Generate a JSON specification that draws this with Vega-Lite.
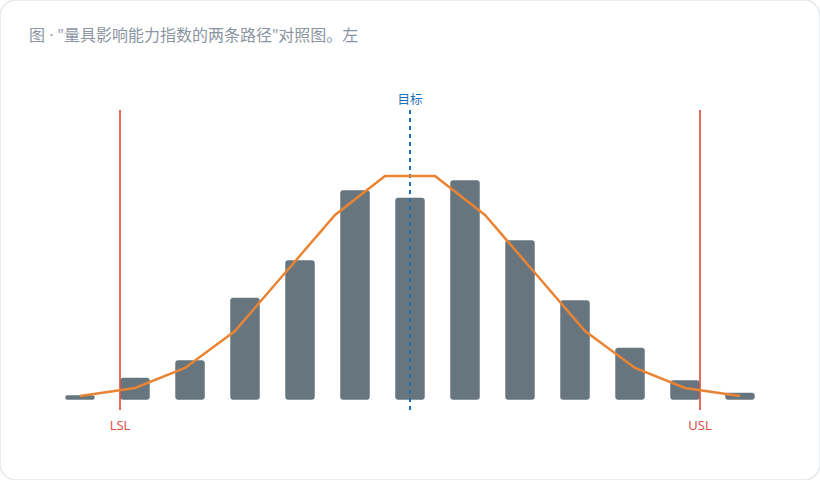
{
  "$schema": "https://vega.github.io/schema/vega-lite/v6.json",
  "width": 820,
  "height": 480,
  "autosize": {"type": "fit", "contains": "padding"},
  "padding": 0,
  "background": "#ffffff",
  "title": {
    "text": "图 · \"量具影响能力指数的两条路径\"对照图。左",
    "anchor": "start",
    "dx": 29,
    "offset": -44,
    "fontSize": 16,
    "fontWeight": "normal",
    "font": "Open Sans, Noto Sans CJK SC",
    "color": "#8a95a1"
  },
  "datasets": {
    "bins": [
      {"x": -6.6, "n": 2},
      {"x": -5.5, "n": 9},
      {"x": -4.4, "n": 16},
      {"x": -3.3, "n": 41},
      {"x": -2.2, "n": 56},
      {"x": -1.1, "n": 84},
      {"x": 0, "n": 81},
      {"x": 1.1, "n": 88},
      {"x": 2.2, "n": 64},
      {"x": 3.3, "n": 40},
      {"x": 4.4, "n": 21},
      {"x": 5.5, "n": 8},
      {"x": 6.6, "n": 3}
    ],
    "curve": [
      {"x": -6.6, "f": 1.6},
      {"x": -5.5, "f": 4.8},
      {"x": -4.5, "f": 12.8},
      {"x": -3.5, "f": 27.6},
      {"x": -2.5, "f": 50.8},
      {"x": -1.5, "f": 74},
      {"x": -0.5, "f": 89.6},
      {"x": 0.5, "f": 89.6},
      {"x": 1.5, "f": 74},
      {"x": 2.5, "f": 50.8},
      {"x": 3.5, "f": 27.6},
      {"x": 4.5, "f": 12.8},
      {"x": 5.5, "f": 4.8},
      {"x": 6.6, "f": 1.6}
    ],
    "limits": [
      {"x": -5.8, "label": "LSL"},
      {"x": 5.8, "label": "USL"}
    ],
    "target": [
      {"x": 0, "label": "目标"}
    ]
  },
  "encoding": {
    "x": {
      "field": "x",
      "type": "quantitative",
      "scale": {"domain": [-8.1, 8.1], "nice": false, "zero": false},
      "axis": null
    }
  },
  "layer": [
    {
      "data": {"name": "bins"},
      "mark": {
        "type": "bar",
        "width": 30,
        "color": "#67767e",
        "cornerRadius": 3,
        "stroke": "#ffffff",
        "strokeOpacity": 0.5,
        "strokeWidth": 1
      },
      "encoding": {
        "y": {
          "field": "n",
          "type": "quantitative",
          "scale": {"domain": [-32, 160], "nice": false, "zero": false},
          "axis": null
        },
        "y2": {"datum": 0}
      }
    },
    {
      "data": {"name": "target"},
      "mark": {"type": "rule", "color": "#1f6fb5", "strokeWidth": 2, "strokeDash": [4, 4]},
      "encoding": {"y": {"datum": 116}, "y2": {"datum": -4}}
    },
    {
      "data": {"name": "target"},
      "mark": {"type": "text", "color": "#1f6fb5", "fontSize": 12.5, "font": "Noto Sans CJK SC", "baseline": "middle"},
      "encoding": {"y": {"datum": 120}, "text": {"field": "label"}}
    },
    {
      "data": {"name": "limits"},
      "mark": {"type": "rule", "color": "#e0473a", "strokeWidth": 1.6},
      "encoding": {"y": {"datum": 116}, "y2": {"datum": -4}}
    },
    {
      "data": {"name": "limits"},
      "mark": {"type": "text", "color": "#e0473a", "fontSize": 13, "font": "Open Sans", "baseline": "middle"},
      "encoding": {"y": {"datum": -10.4}, "text": {"field": "label"}}
    },
    {
      "data": {"name": "curve"},
      "mark": {"type": "line", "color": "#ea8434", "strokeWidth": 2.5},
      "encoding": {"y": {"field": "f", "type": "quantitative"}}
    }
  ],
  "config": {
    "view": {"stroke": "#e3e7ec", "cornerRadius": 16, "strokeWidth": 1.5}
  }
}
